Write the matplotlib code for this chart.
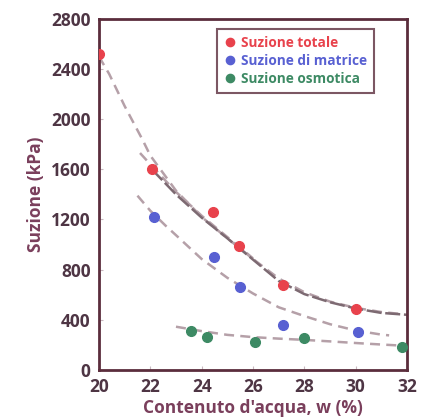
import matplotlib.pyplot as plt

# punti misurati
w_tot = [20.0, 22.06, 24.44, 25.47, 27.18, 30.0]
s_tot = [2520, 1600, 1260, 985, 680, 490]
w_mat = [22.15, 24.49, 25.48, 27.18, 30.1]
s_mat = [1220, 900, 660, 360, 300]
w_osm = [23.6, 24.19, 26.07, 27.98, 31.8]
s_osm = [310, 265, 225, 255, 185]

# linee di tendenza
w_trend_a = [20.0, 20.4, 21.0, 21.7, 22.0, 23.0, 24.0, 25.0, 26.0, 27.0, 28.0, 29.0, 30.0, 31.0, 31.7]
s_trend_a = [2500, 2360, 2105, 1835, 1710, 1430, 1220, 1050, 885, 730, 620, 545, 495, 462, 448]
w_trend_b = [21.6, 22.0, 23.0, 24.0, 25.0, 26.0]
s_trend_b = [1730, 1640, 1420, 1230, 1060, 890]
w_trend_c = [22.06, 23.0, 24.0, 25.0, 26.0, 27.0, 28.0, 29.0, 30.0, 31.0, 32.0]
s_trend_c = [1600, 1400, 1215, 1050, 880, 710, 605, 540, 490, 455, 440]
w_trend_m = [21.5, 22.0, 22.6, 23.0, 24.0, 25.0, 26.0, 27.0, 28.0, 29.0, 30.0, 31.0, 31.3]
s_trend_m = [1390, 1270, 1150, 1075, 885, 735, 610, 500, 430, 365, 315, 282, 276]
w_trend_o = [23.0, 24.0, 25.0, 26.0, 27.0, 28.0, 29.0, 30.0, 31.0, 32.0]
s_trend_o = [345, 310, 280, 262, 250, 240, 228, 215, 203, 192]

plt.rcParams['font.family'] = ['Open Sans', 'DejaVu Sans']
plt.rcParams['font.weight'] = 'bold'

fig = plt.figure(figsize=(4.21, 4.19), dpi=100)
ax = fig.add_axes([0.235, 0.117, 0.732, 0.838])

grigio = '#b5a0a8'
scuro = '#7d6a72'
ax.plot(w_trend_a, s_trend_a, ls=(0, (4, 2.5)), color=grigio, lw=1.8, zorder=2)
ax.plot(w_trend_b, s_trend_b, ls=(0, (4, 2.5)), color=grigio, lw=1.8, zorder=2)
ax.plot(w_trend_c, s_trend_c, ls=(0, (6, 1.5)), color=scuro, lw=1.8, zorder=2)
ax.plot(w_trend_m, s_trend_m, ls=(0, (4, 2.5)), color=grigio, lw=1.8, zorder=2)
ax.plot(w_trend_o, s_trend_o, ls=(0, (4, 2.5)), color=grigio, lw=1.8, zorder=2)

ax.plot(w_tot, s_tot, 'o', color='#e8424c', ms=7, label='Suzione totale', zorder=3)
ax.plot(w_mat, s_mat, 'o', color='#5860d2', ms=7, label='Suzione di matrice', zorder=3)
ax.plot(w_osm, s_osm, 'o', color='#3d8a64', ms=7, label='Suzione osmotica', zorder=3)

ax.set_xlim(20, 32)
ax.set_ylim(0, 2800)
ax.set_xticks(range(20, 33, 2))
ax.set_yticks(range(0, 2801, 400))
ax.tick_params(direction='in', length=3, color='#c8b8c0', labelsize=12.5,
               labelcolor='#4e3544', pad=6)
for s in ax.spines.values():
    s.set_color('#5b2d3c')
    s.set_linewidth(2)

ax.set_xlabel("Contenuto d'acqua, w (%)", fontsize=12.5, fontweight='bold',
              color='#7a3f5c', labelpad=2)
ax.set_ylabel('Suzione (kPa)', fontsize=12.5, fontweight='bold',
              color='#7a3f5c', labelpad=4)

leg = ax.legend(loc='upper right', bbox_to_anchor=(0.915, 0.99), fontsize=9.8,
                fancybox=False, handletextpad=0.3, borderpad=0.5, labelspacing=0.3,
                handlelength=1.0, markerscale=0.85)
leg.get_frame().set_edgecolor('#5b2d3c')
leg.get_frame().set_linewidth(1.5)
for t, c in zip(leg.get_texts(), ['#e8424c', '#5860d2', '#3d8a64']):
    t.set_color(c)

fig.savefig('out.png', dpi=100)
